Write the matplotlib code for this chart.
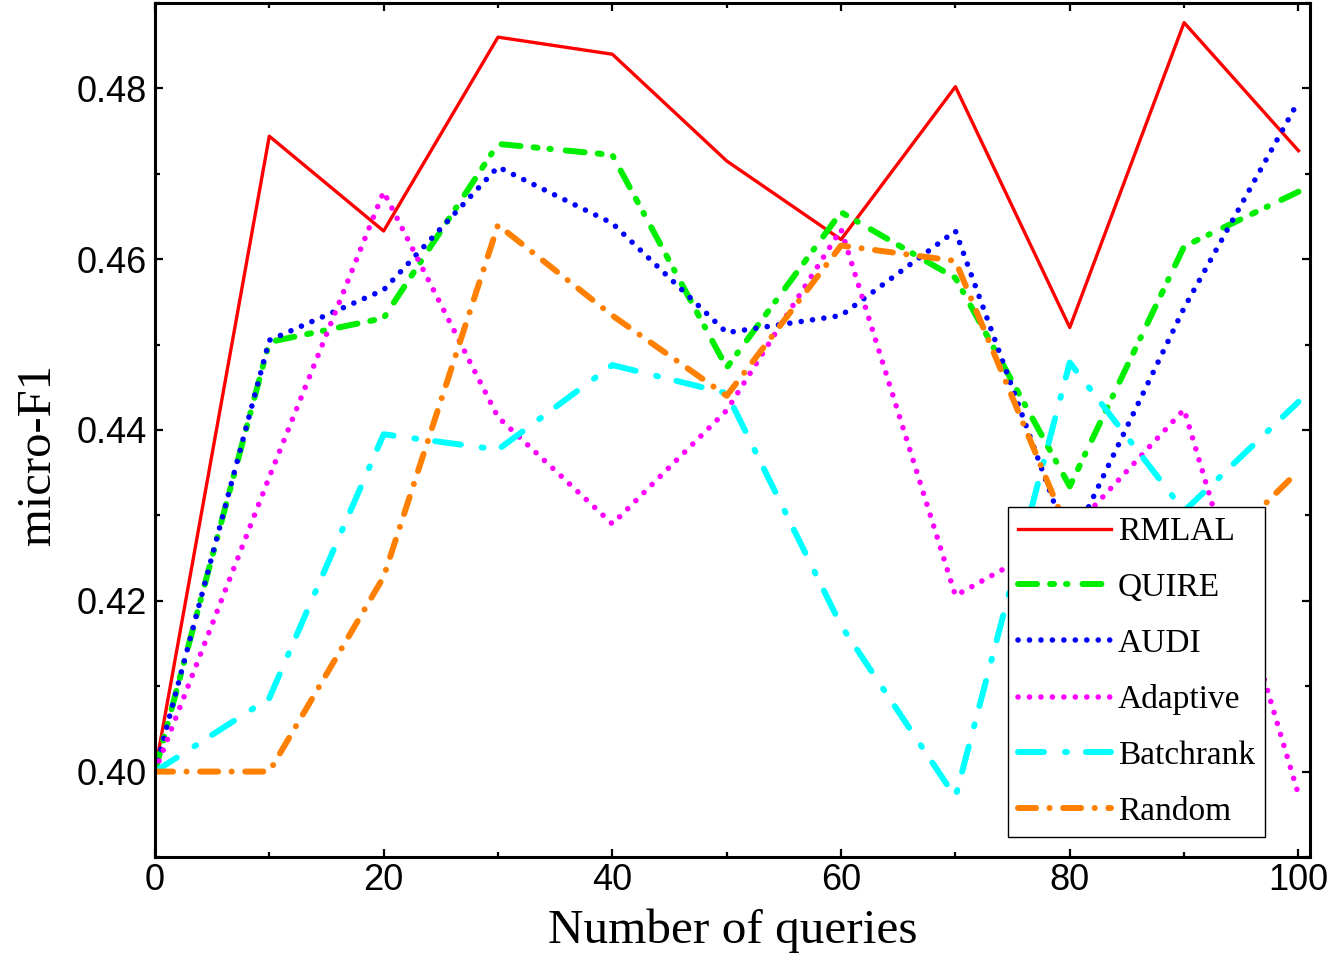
import matplotlib
matplotlib.use("Agg")
import matplotlib.pyplot as plt
from matplotlib.ticker import MultipleLocator

# values
queries = [0, 10, 20, 30, 40, 50, 60, 70, 80, 90, 100]
rmlal = [0.4000, 0.4744, 0.4633, 0.4860, 0.4840, 0.4715, 0.4623, 0.4802, 0.4520, 0.4877, 0.4727]
quire = [0.4000, 0.4503, 0.4531, 0.4735, 0.4722, 0.4473, 0.4655, 0.4578, 0.4334, 0.4615, 0.4679]
audi = [0.4000, 0.4505, 0.4564, 0.4708, 0.4642, 0.4514, 0.4534, 0.4633, 0.4264, 0.4543, 0.4785]
adaptive = [0.4000, 0.4345, 0.4679, 0.4415, 0.4290, 0.4423, 0.4635, 0.4206, 0.4280, 0.4424, 0.3973]
batchrank = [0.4000, 0.4086, 0.4395, 0.4377, 0.4476, 0.4443, 0.4171, 0.3970, 0.4479, 0.4305, 0.4433]
random_q = [0.4000, 0.4000, 0.4228, 0.4640, 0.4534, 0.4440, 0.4616, 0.4598, 0.4277, 0.4220, 0.4352]

plt.rcParams["lines.scale_dashes"] = False
plt.rcParams["font.family"] = "Liberation Sans"

fig = plt.figure(figsize=(13.38, 9.63), dpi=100)
ax = fig.add_axes([0.1158, 0.1101, 0.8632, 0.8868])

# dash patterns in points (round caps add the line width to each "on" piece)
ax.plot(queries, rmlal, color="#ff0000", lw=2.4, label="RMLAL")
ax.plot(queries, quire, color="#00ee00", lw=4.3, dashes=(13.7, 9.4, 2.9, 8.6, 1.0, 10.8),
        dash_capstyle="round", label="QUIRE")
ax.plot(queries, audi, color="#0000ff", lw=4.0, dashes=(0.05, 8.2),
        dash_capstyle="round", label="AUDI")
ax.plot(queries, adaptive, color="#ff00ff", lw=4.0, dashes=(0.05, 8.2),
        dash_capstyle="round", label="Adaptive")
ax.plot(queries, batchrank, color="#00ffff", lw=4.3, dashes=(18.7, 15.1, 1.4, 13.7),
        dash_capstyle="round", label="Batchrank")
ax.plot(queries, random_q, color="#ff8000", lw=4.3, dashes=(13.0, 9.7, 0.1, 9.7),
        dash_capstyle="round", label="Random")

ax.set_xlim(0, 101)
ax.set_ylim(0.39, 0.49)
ax.xaxis.set_major_locator(MultipleLocator(20))
ax.xaxis.set_minor_locator(MultipleLocator(10))
ax.yaxis.set_major_locator(MultipleLocator(0.02))
ax.yaxis.set_minor_locator(MultipleLocator(0.01))
ax.yaxis.set_major_formatter(plt.FormatStrFormatter("%.2f"))

ax.tick_params(which="both", direction="in", top=True, right=True, width=1.6)
ax.tick_params(which="major", length=5.5, labelsize=26)
ax.tick_params(which="minor", length=3.5)
ax.tick_params(axis="x", pad=4)
ax.tick_params(axis="y", pad=6)
for sp in ax.spines.values():
    sp.set_linewidth(2.2)

ax.set_xlabel("Number of queries", family="Liberation Serif", fontsize=35.5, labelpad=8)
ax.set_ylabel("micro-F1", family="Liberation Serif", fontsize=35)
ax.yaxis.set_label_coords(-0.082, 0.471)

leg = ax.legend(loc="lower left", bbox_to_anchor=(0.7385, 0.0234), borderaxespad=0,
                prop={"family": "Liberation Serif", "size": 24}, fancybox=False,
                edgecolor="black", framealpha=1, borderpad=0.3, handlelength=2.8,
                handletextpad=0.2, labelspacing=0.76)
leg.get_frame().set_linewidth(1.0)

fig.savefig("out.png", dpi=100)
